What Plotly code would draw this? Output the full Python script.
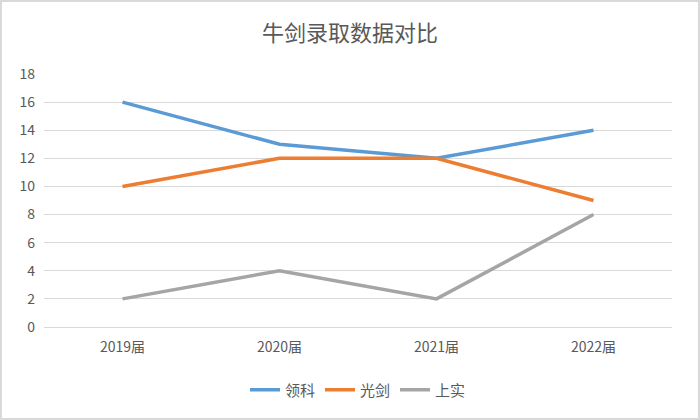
import plotly.graph_objects as go

categories = ["2019届", "2020届", "2021届", "2022届"]
series_names = ["领科", "光剑", "上实"]
lingke = [16, 13, 12, 14]
guangjian = [10, 12, 12, 9]
shangshi = [2, 4, 2, 8]
y_ticks = [0, 2, 4, 6, 8, 10, 12, 14, 16, 18]

colors = ["#5B9BD5", "#ED7D31", "#A5A5A5"]
font_family = "Noto Sans CJK SC, Liberation Sans, sans-serif"

fig = go.Figure()
for name, vals, c in zip(series_names, [lingke, guangjian, shangshi], colors):
    fig.add_trace(go.Scatter(x=categories, y=vals, mode="lines", name=name,
                             line=dict(color=c, width=3.5)))

L, R, T, B = 44, 28, 74, 93
W, H = 700, 420
pw, ph = W - L - R, H - T - B

fig.update_layout(
    width=W, height=H,
    margin=dict(l=L, r=R, t=T, b=B),
    paper_bgcolor="white", plot_bgcolor="white",
    font=dict(family=font_family, color="#595959", size=14),
    title=dict(text="牛剑录取数据对比", x=0.5, xanchor="center", y=1 - 33 / H, yanchor="middle",
               font=dict(size=22, color="#595959", family=font_family)),
    xaxis=dict(type="category", range=[-0.5, 3.5], showgrid=False, showline=False,
               ticks="", tickfont=dict(size=14, color="#595959"), ticklabelstandoff=10),
    yaxis=dict(range=[0, 18], tickvals=y_ticks, showgrid=True, gridcolor="#D9D9D9",
               gridwidth=1, zeroline=True, zerolinecolor="#D9D9D9", zerolinewidth=1,
               showline=False, ticks="", tickfont=dict(size=14, color="#595959"),
               ticklabelstandoff=8),
    legend=dict(orientation="h", x=0.5, xanchor="center", y=-(390 - T - ph) / ph, yanchor="middle",
                font=dict(size=15, color="#595959"), itemwidth=30, tracegroupgap=0),
    showlegend=True,
)

fig.add_shape(type="rect", xref="paper", yref="paper",
              x0=-(L - 1) / pw, x1=1 + (R - 1) / pw, y0=-(B - 1) / ph, y1=1 + (T - 1) / ph,
              line=dict(color="#D9D9D9", width=2), layer="below")

fig.write_html("out.html", config={"displayModeBar": False},
               post_script="document.body.style.margin='0';")
